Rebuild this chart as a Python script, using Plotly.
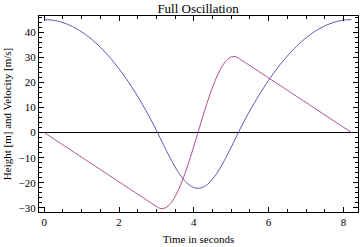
import plotly.graph_objects as go

# Time samples (s)
time_s = [0, 0.25, 0.5, 0.75, 1.0, 1.25, 1.5, 1.75, 2.0, 2.25, 2.5, 2.75, 2.875, 3.0,
          3.125, 3.25, 3.375, 3.5, 3.625, 3.75, 3.875, 4.0, 4.125, 4.25, 4.375, 4.5,
          4.625, 4.75, 4.875, 5.0, 5.125, 5.25, 5.375, 5.5, 5.75, 6.0, 6.25, 6.5, 6.75,
          7.0, 7.25, 7.5, 7.75, 8.0, 8.22]
# Height [m]
height_m = [45.0, 44.69, 43.78, 42.24, 40.10, 37.34, 33.98, 29.99, 25.40, 20.19, 14.38, 7.94, 4.50, 0.90,
            -2.91, -6.68, -10.32, -13.70, -16.65, -19.05, -20.83, -21.88, -22.17, -21.70, -20.47, -18.53,
            -15.99, -12.92, -9.46, -5.79, -2.00, 1.76, 5.33, 8.74, 15.09, 20.84, 25.98, 30.50, 34.41,
            37.71, 40.39, 42.46, 43.92, 44.77, 45.0]
# Velocity [m/s]
velocity_ms = [0.0, -2.45, -4.9, -7.35, -9.8, -12.25, -14.7, -17.15, -19.6, -22.05, -24.5, -26.95, -28.18, -29.4,
               -30.28, -29.9, -28.27, -25.45, -21.60, -16.8, -11.37, -5.4, 0.74, 6.9, 12.73, 18.05,
               22.61, 26.2, 28.78, 30.1, 30.18, 29.1, 27.89, 26.66, 24.21, 21.76, 19.31, 16.86, 14.41,
               11.96, 9.51, 7.06, 4.61, 2.16, 0.0]

x_ticks = [0, 2, 4, 6, 8]
y_ticks = [-30, -20, -10, 0, 10, 20, 30, 40]

font = "Liberation Serif, Times New Roman, serif"

fig = go.Figure()
fig.add_trace(go.Scatter(x=time_s, y=height_m, mode="lines",
                         line=dict(color="#5a5ab4", width=1, shape="spline", smoothing=0.8),
                         showlegend=False))
fig.add_trace(go.Scatter(x=time_s, y=velocity_ms, mode="lines",
                         line=dict(color="#a94f8a", width=1, shape="spline", smoothing=0.8),
                         showlegend=False))

axis_common = dict(showline=True, linecolor="black", linewidth=1, mirror="ticks",
                   ticks="inside", tickcolor="black", showgrid=False,
                   tickfont=dict(family=font, size=11, color="black"))

fig.update_layout(
    width=360, height=247,
    margin=dict(l=39, r=2, t=16, b=35),
    paper_bgcolor="white", plot_bgcolor="white",
    title=dict(text="Full Oscillation", x=0.55, xanchor="center", y=0.985, yanchor="top",
               font=dict(family=font, size=13, color="black")),
    xaxis=dict(range=[-0.14, 8.39], tickvals=x_ticks, ticklen=5, zeroline=False,
               minor=dict(dtick=0.5, ticklen=3, ticks="inside", tickcolor="black"),
               title=dict(text="Time in seconds", standoff=8,
                          font=dict(family=font, size=11, color="black")),
               **axis_common),
    yaxis=dict(range=[-31.6, 46.4], tickvals=y_ticks, ticklen=5,
               zeroline=True, zerolinecolor="black", zerolinewidth=1,
               minor=dict(dtick=2, ticklen=3, ticks="inside", tickcolor="black"),
               title=dict(text="Height [m] and Velocity [m/s]", standoff=4,
                          font=dict(family=font, size=11, color="black")),
               **axis_common),
)

fig.write_html("out.html")
